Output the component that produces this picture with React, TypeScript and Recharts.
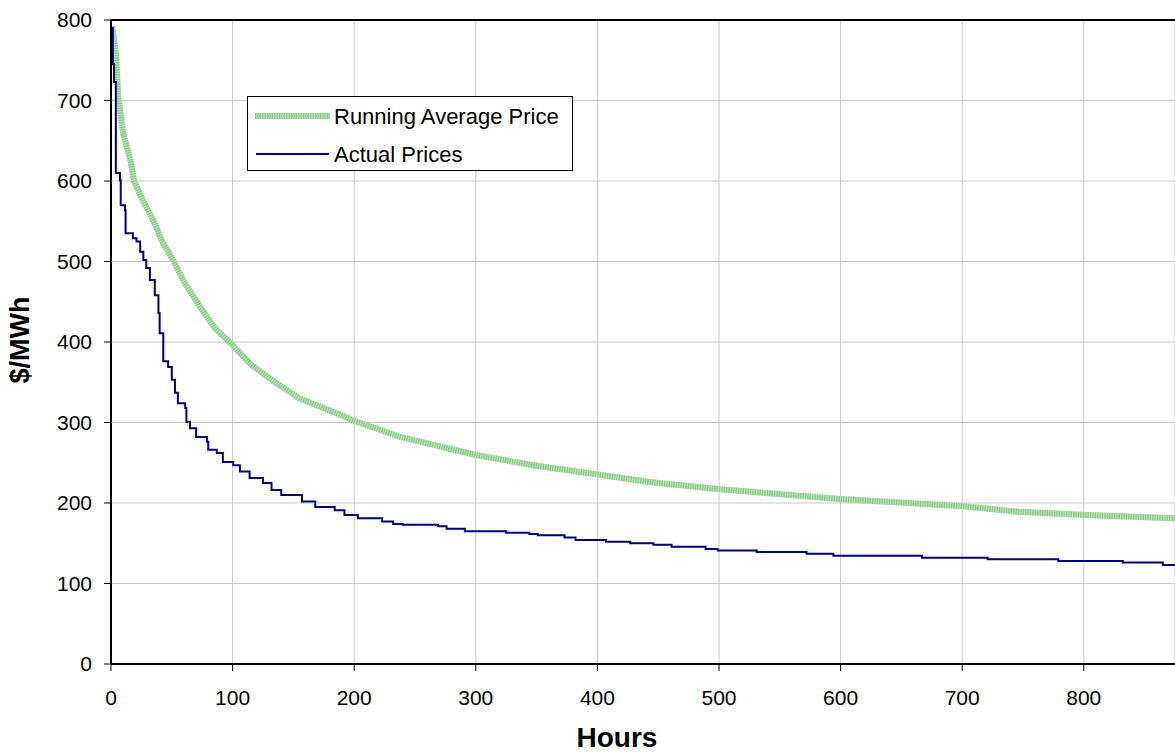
import React from "react";
import {
  CartesianGrid,
  Label,
  Line,
  LineChart,
  ReferenceLine,
  XAxis,
  YAxis,
} from "recharts";

// price duration curve
const actualHours = [
  0, 1.5, 2.5, 4, 7.4, 8, 11.5, 12, 18, 21, 24, 26.6, 29, 32, 36, 39, 40, 43, 47,
  50, 52.6, 55, 61, 62, 65, 70, 79, 80, 87, 92, 100.5, 106, 114, 125, 132, 140,
  157, 168, 184, 192, 203, 223, 232, 240, 269, 276, 291, 325, 344, 351, 373, 382,
  407, 427, 446, 461, 489, 499, 531, 572, 594, 667, 721, 779, 832, 865, 875,
];
const actualPrices = [
  790, 745, 723, 610, 601, 570, 564, 535, 529, 525, 512, 502, 492, 477, 458, 436,
  411, 376, 369, 353, 337, 324, 318, 301, 293, 282, 276, 266, 262, 251, 247, 239,
  231, 225, 216, 210, 202, 195, 191, 185, 181, 177, 174, 173, 171, 168, 165, 163,
  161.5, 160, 157, 154, 152, 150, 148, 145.5, 143, 141, 139, 137, 134.5, 132, 130,
  128, 126, 123, 123,
];

const averageHours = [
  1, 4, 6, 10, 16, 19, 25, 35, 42, 51, 60, 73, 85, 100, 115, 136, 155, 188, 200,
  238, 299, 347, 402, 443, 501, 599, 701, 747, 802, 875,
];
const averagePrices = [
  792, 759, 705, 659, 626, 600, 580, 550, 525, 502, 475, 444, 418, 396, 372, 349,
  330, 310, 302, 282, 260, 247, 235, 226, 217, 205, 196, 189, 185, 181,
];

const seriesNames = ["Running Average Price", "Actual Prices"];

const xTicks = [0, 100, 200, 300, 400, 500, 600, 700, 800];
const yTicks = [0, 100, 200, 300, 400, 500, 600, 700, 800];

const actualData = actualHours.map((hour, i) => ({ hour, price: actualPrices[i] }));
const averageData = averageHours.map((hour, i) => ({ hour, price: averagePrices[i] }));

const font = "'Liberation Sans', Arial, sans-serif";
const greenLight = "#bde3ba";
const greenDark = "#84c882";
const navy = "#000080";

function LegendBox() {
  return (
    <div
      style={{
        position: "absolute",
        left: 247,
        top: 96,
        width: 324,
        height: 73,
        border: "1px solid #000",
        background: "#fff",
      }}
    >
      <svg width={324} height={73} style={{ display: "block" }}>
        <line x1={7} x2={82} y1={19} y2={19} stroke={greenLight} strokeWidth={6} />
        <line
          x1={7}
          x2={82}
          y1={19}
          y2={19}
          stroke={greenDark}
          strokeWidth={6}
          strokeDasharray="1.2 1.2"
        />
        <text x={86} y={27} fontSize={22} fontFamily={font}>
          {seriesNames[0]}
        </text>
        <line x1={8} x2={81} y1={57} y2={57} stroke={navy} strokeWidth={2} />
        <text x={86} y={65} fontSize={22} fontFamily={font}>
          {seriesNames[1]}
        </text>
      </svg>
    </div>
  );
}

export default function App() {
  return (
    <div style={{ position: "absolute", left: 0, top: 0, width: 1175, height: 753 }}>
      <LineChart
        width={1175}
        height={753}
        margin={{ top: 20, right: 0, bottom: 0, left: 0 }}
        style={{ fontFamily: font }}
      >
        <CartesianGrid stroke="#c8c8c8" strokeWidth={1} />
        <XAxis
          type="number"
          dataKey="hour"
          domain={[0, 875]}
          ticks={xTicks}
          allowDataOverflow
          height={89}
          tickSize={7}
          tickMargin={19}
          axisLine={{ stroke: "#000", strokeWidth: 2 }}
          tickLine={{ stroke: "#000" }}
          tick={{ fill: "#000", fontSize: 21, fontFamily: font }}
        >
          <Label
            content={() => (
              <text
                x={617}
                y={747}
                textAnchor="middle"
                fontSize={28}
                fontWeight="bold"
                fontFamily={font}
                fill="#000"
              >
                Hours
              </text>
            )}
          />
        </XAxis>
        <YAxis
          type="number"
          domain={[0, 800]}
          ticks={yTicks}
          width={111}
          tickSize={7}
          tickMargin={12}
          axisLine={{ stroke: "#000", strokeWidth: 2 }}
          tickLine={{ stroke: "#000" }}
          tick={{ fill: "#000", fontSize: 21, fontFamily: font }}
        >
          <Label
            content={() => (
              <text
                x={29}
                y={340}
                transform="rotate(-90 29 340)"
                textAnchor="middle"
                fontSize={27}
                fontWeight="bold"
                fontFamily={font}
                fill="#000"
              >
                $/MWh
              </text>
            )}
          />
        </YAxis>
        <ReferenceLine y={800} stroke="#000" strokeWidth={2} />
        <Line
          data={averageData}
          dataKey="price"
          type="linear"
          stroke={greenLight}
          strokeWidth={6}
          dot={false}
          isAnimationActive={false}
        />
        <Line
          data={averageData}
          dataKey="price"
          name={seriesNames[0]}
          type="linear"
          stroke={greenDark}
          strokeWidth={6}
          strokeDasharray="1.2 1.2"
          dot={false}
          isAnimationActive={false}
        />
        <Line
          data={actualData}
          dataKey="price"
          name={seriesNames[1]}
          type="stepAfter"
          stroke={navy}
          strokeWidth={2}
          dot={false}
          isAnimationActive={false}
        />
      </LineChart>
      <LegendBox />
    </div>
  );
}
